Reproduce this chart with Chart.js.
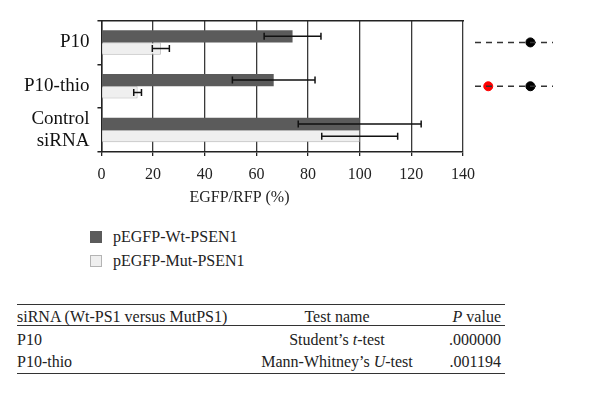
<!DOCTYPE html>
<html>
<head>
<meta charset="utf-8">
<script src="https://cdn.jsdelivr.net/npm/chart.js@4/dist/chart.umd.min.js"></script>
<style>
  body { margin: 0; background: #fff; }
  #wrap { position: relative; width: 600px; height: 395px; font-family: "Liberation Serif", serif; color: #222; }
  #wrap canvas { position: absolute; left: 0; top: 0; }
  #legend { position: absolute; left: 90px; top: 225px; list-style: none; margin: 0; padding: 0; font-size: 16px; }
  #legend li { display: flex; align-items: center; height: 24px; }
  #legend span.box { display: inline-block; width: 12px; height: 12px; margin-right: 11px; box-sizing: border-box; }
  table { position: absolute; left: 17px; top: 304px; width: 488px; border-collapse: collapse; font-size: 16px; }
  table th, table td { padding: 0; font-weight: normal; }
  thead tr { border-top: 1.5px solid #333; border-bottom: 1px solid #333; }
  thead th { height: 16px; line-height: 17px; padding-top: 3px; }
  tbody tr:last-child { border-bottom: 1.5px solid #333; }
  tbody td { height: 22px; line-height: 22px; }
  tbody tr:first-child td { padding-top: 3px; }
  .c1 { text-align: left; width: 220px; }
  .c2 { text-align: center; width: 200px; }
  th.c3, td.c3 { text-align: right; padding-right: 4px; }
</style>
</head>
<body>
<div id="wrap">
  <canvas id="chart" width="492" height="215"></canvas>
  <canvas id="marks" width="600" height="215"></canvas>
  <ul id="legend"></ul>
  <table>
    <thead>
      <tr><th class="c1">siRNA (Wt-PS1 versus MutPS1)</th><th class="c2">Test name</th><th class="c3"><i>P</i> value</th></tr>
    </thead>
    <tbody>
      <tr><td class="c1">P10</td><td class="c2">Student’s <i>t</i>-test</td><td class="c3">.000000</td></tr>
      <tr><td class="c1">P10-thio</td><td class="c2">Mann-Whitney’s <i>U</i>-test</td><td class="c3">.001194</td></tr>
    </tbody>
  </table>
</div>

<script>
// データ
const categories = ['P10', 'P10-thio', ['Control', 'siRNA']];
const wtValues = [74, 66.7, 100];
const wtErrors = [11, 16, 23.8];
const mutValues = [23, 14, 100];
const mutErrors = [3.3, 1.5, 14.7];
const xTicks = [0, 20, 40, 60, 80, 100, 120, 140];

// 右側の有意差マーカー
const markerRows = ['P10', 'P10-thio', 'Control siRNA'];
const blackMarkerX = [0.71, 0.71];
const redMarkerX = [null, 0.17];

Chart.defaults.font.family = '"Liberation Serif", serif';
Chart.defaults.color = '#222';

// エラーバーを描くプラグイン
const errorBars = {
    id: 'errorBars',
    afterDatasetsDraw(chart) {
        const ctx = chart.ctx;
        const xs = chart.scales.x;
        ctx.save();
        ctx.strokeStyle = '#111';
        ctx.lineWidth = 1.5;
        chart.data.datasets.forEach((ds, i) => {
            const meta = chart.getDatasetMeta(i);
            meta.data.forEach((bar, j) => {
                const v = ds.data[j];
                const e = ds.errors[j];
                const x0 = xs.getPixelForValue(v - e);
                const x1 = xs.getPixelForValue(v + e);
                const y = bar.y;
                ctx.beginPath();
                ctx.moveTo(x0, y); ctx.lineTo(x1, y);
                ctx.moveTo(x0, y - 3.5); ctx.lineTo(x0, y + 3.5);
                ctx.moveTo(x1, y - 3.5); ctx.lineTo(x1, y + 3.5);
                ctx.stroke();
            });
        });
        ctx.restore();
    }
};

// HTML凡例
const htmlLegend = {
    id: 'htmlLegend',
    afterUpdate(chart) {
        const ul = document.getElementById('legend');
        ul.innerHTML = '';
        const items = chart.options.plugins.legend.labels.generateLabels(chart);
        items.forEach(item => {
            const li = document.createElement('li');
            const box = document.createElement('span');
            box.className = 'box';
            box.style.background = item.fillStyle;
            box.style.border = '1px solid ' + (item.lineWidth ? item.strokeStyle : item.fillStyle);
            li.appendChild(box);
            li.appendChild(document.createTextNode(item.text));
            ul.appendChild(li);
        });
    }
};

const chart = new Chart(document.getElementById('chart'), {
    type: 'bar',
    data: {
        labels: categories,
        datasets: [{
            label: 'pEGFP-Wt-PSEN1',
            data: wtValues,
            errors: wtErrors,
            backgroundColor: '#5b5b5b',
            borderWidth: 0
        }, {
            label: 'pEGFP-Mut-PSEN1',
            data: mutValues,
            errors: mutErrors,
            backgroundColor: '#efefef',
            borderColor: '#b4b4b4',
            borderWidth: 1
        }]
    },
    options: {
        indexAxis: 'y',
        responsive: false,
        animation: false,
        devicePixelRatio: 1,
        categoryPercentage: 0.56,
        barPercentage: 1.0,
        layout: { padding: { left: 16, top: 20.5, right: 29, bottom: 7.6 } },
        plugins: {
            legend: { display: false },
            tooltip: { enabled: false },
            title: {
                display: true,
                position: 'bottom',
                text: 'EGFP/RFP (%)',
                font: { size: 16, weight: 'normal' },
                padding: { top: -5, bottom: 0 },
                color: '#222'
            }
        },
        scales: {
            x: {
                min: 0,
                max: 140,
                afterBuildTicks: s => { s.ticks = xTicks.map(v => ({ value: v })); },
                ticks: { font: { size: 16 }, padding: 9, color: '#222' },
                grid: { color: '#3a3a3a', lineWidth: 1.3, tickLength: 4, tickColor: '#222' },
                border: { color: '#222', width: 1.5 }
            },
            xTop: {
                position: 'top',
                min: 0,
                max: 140,
                grid: { display: false, drawTicks: false, tickLength: 0 },
                ticks: { display: false, padding: 0 },
                border: { color: '#222', width: 1.5 }
            },
            y: {
                afterFit: s => { s.paddingTop = 0; s.paddingBottom = 0; },
                ticks: { font: { size: 19 }, padding: 8, color: '#111', autoSkip: false },
                grid: {
                    offset: true,
                    drawOnChartArea: false,
                    tickLength: 4,
                    lineWidth: 1.5,
                    tickColor: '#222'
                },
                border: { color: '#222', width: 1.5 }
            }
        }
    },
    plugins: [errorBars, htmlLegend]
});

// 右側のマーカー用チャート（メインと同じ縦位置に合わせる）
const area = chart.chartArea;
const markCanvas = document.getElementById('marks');
new Chart(markCanvas, {
    type: 'line',
    data: {
        labels: markerRows,
        datasets: [
            {
                data: [{ x: 0, y: markerRows[0] }, { x: 1, y: markerRows[0] }],
                borderColor: '#333', borderWidth: 1.5, borderDash: [6, 5], pointRadius: 0
            },
            {
                data: [{ x: 0, y: markerRows[1] }, { x: 1, y: markerRows[1] }],
                borderColor: '#333', borderWidth: 1.5, borderDash: [6, 5], pointRadius: 0
            },
            {
                type: 'scatter',
                data: blackMarkerX.map((v, i) => v === null ? null : { x: v, y: markerRows[i] }).filter(p => p),
                backgroundColor: '#000', borderColor: '#000', pointRadius: 4.5
            },
            {
                type: 'scatter',
                data: redMarkerX.map((v, i) => v === null ? null : { x: v, y: markerRows[i] }).filter(p => p),
                backgroundColor: '#f00', borderColor: '#f00', pointRadius: 4.5
            }
        ]
    },
    options: {
        responsive: false,
        animation: false,
        devicePixelRatio: 1,
        layout: { padding: { left: 475, right: 47, top: area.top, bottom: markCanvas.height - area.bottom } },
        plugins: { legend: { display: false }, tooltip: { enabled: false } },
        scales: {
            x: { type: 'linear', min: 0, max: 1, display: false },
            y: { type: 'category', offset: true, display: false }
        }
    }
});
</script>
</body>
</html>
